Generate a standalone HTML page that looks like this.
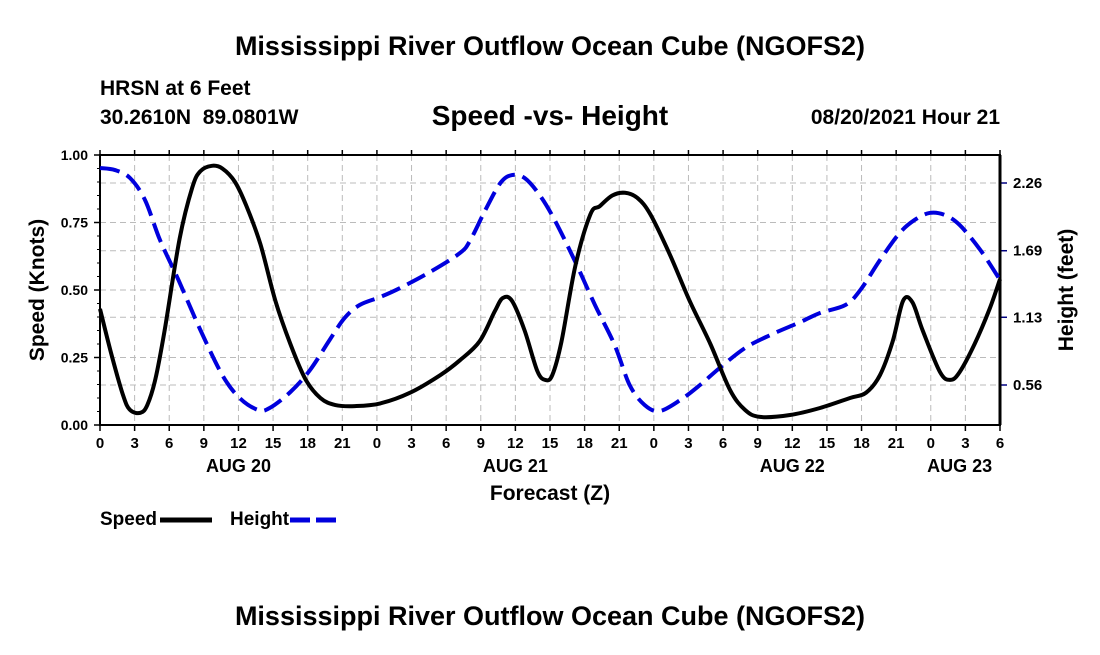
<!DOCTYPE html>
<html><head><meta charset="utf-8"><style>
body{margin:0;background:#fff;width:1100px;height:650px;overflow:hidden}
svg text{font-family:"Liberation Sans",Arial,sans-serif;font-weight:bold;fill:#000}
</style></head><body>
<svg id="chart" width="1100" height="650" viewBox="0 0 1100 650" xmlns="http://www.w3.org/2000/svg">
<text x="550" y="55" text-anchor="middle" font-size="27">Mississippi River Outflow Ocean Cube (NGOFS2)</text>
<text x="100" y="95" font-size="21">HRSN at 6 Feet</text>
<text x="100" y="124" font-size="21" xml:space="preserve">30.2610N  89.0801W</text>
<text x="550" y="125" text-anchor="middle" font-size="28">Speed -vs- Height</text>
<text x="1000" y="124" text-anchor="end" font-size="21">08/20/2021 Hour 21</text>
<g id="grid"></g>
<g id="axes"></g>
<g id="series"></g>
<text transform="translate(44,290) rotate(-90)" text-anchor="middle" font-size="21">Speed (Knots)</text>
<text transform="translate(1073,290) rotate(-90)" text-anchor="middle" font-size="21">Height (feet)</text>
<text x="550" y="500" text-anchor="middle" font-size="21">Forecast (Z)</text>
<g>
<text x="100" y="525" font-size="19">Speed</text>
<line x1="160" y1="520" x2="212" y2="520" stroke="#000" stroke-width="5"/>
<text x="230" y="525" font-size="19">Height</text>
<line x1="290" y1="520" x2="342" y2="520" stroke="#0000dd" stroke-width="5" stroke-dasharray="20,6"/>
</g>
<text x="550" y="625" text-anchor="middle" font-size="27">Mississippi River Outflow Ocean Cube (NGOFS2)</text>
</svg>
<script>
const speedHours=[0,1,2,2.6,3.5,4.1,4.8,5.6,6.9,8,8.7,9.7,10.6,11.7,12.7,13.9,15.2,16.5,17.8,19.1,20.4,22.1,24.3,26.9,29.5,31.2,32.9,34.2,34.9,35.7,36.8,37.9,38.6,39.2,40,41.2,42.5,43.3,44.4,45.5,46.6,47.7,49.4,51.1,52.9,54.6,55.9,57.2,59.8,62.4,65,66.4,67.6,68.7,69.6,70.4,71.3,72.8,73.7,74.5,75.8,77.1,78];
const speedValues=[.43,.26,.11,.056,.045,.074,.17,.35,.69,.88,.94,.96,.95,.90,.81,.67,.46,.30,.17,.10,.074,.07,.08,.12,.185,.24,.31,.42,.47,.46,.35,.20,.167,.185,.31,.59,.78,.81,.85,.86,.84,.78,.63,.46,.30,.13,.056,.03,.037,.063,.10,.12,.185,.31,.46,.455,.35,.196,.167,.196,.30,.43,.54];
const heightHours=[0,1.3,2.6,3.9,5.2,6.8,8.7,10.6,12.1,13.7,14.7,16.5,18.2,19.9,21.2,22.5,24.3,26,28.6,31.2,32.1,33.4,34.7,35.7,36.8,38.1,39.4,41.2,42.9,44.6,45.9,47.2,48.5,50.3,52,53.7,55.9,58.1,60.7,62.4,64.6,65.9,67.6,69.3,70.6,71.9,73.2,74.5,76.3,78];
const heightValues=[2.386,2.369,2.302,2.117,1.78,1.444,1.023,0.644,0.451,0.35,0.366,0.501,0.686,0.939,1.124,1.233,1.301,1.376,1.511,1.671,1.78,2.033,2.26,2.327,2.302,2.159,1.949,1.595,1.233,0.897,0.56,0.392,0.341,0.434,0.56,0.703,0.871,0.981,1.09,1.166,1.233,1.36,1.612,1.839,1.949,2.008,1.991,1.907,1.696,1.444];
const xTickLabels=["0","3","6","9","12","15","18","21","0","3","6","9","12","15","18","21","0","3","6","9","12","15","18","21","0","3","6"];
const dayLabels=["AUG 20","AUG 21","AUG 22","AUG 23"];
const speedTicks=[0,0.25,0.5,0.75,1];
const heightTicks=[0.56,1.13,1.69,2.26];

const L=100,R=1000,T=155,B=425,HMAX=78;
const X=h=>L+h*(R-L)/HMAX;
const YS=s=>B-s*(B-T);
const YH=v=>385-(v-0.56)/0.008416;
const NS="http://www.w3.org/2000/svg";
function mk(tag,attrs,parent){const e=document.createElementNS(NS,tag);for(const k in attrs)e.setAttribute(k,attrs[k]);parent.appendChild(e);return e;}
function smooth(pts){let d="M"+pts[0][0]+","+pts[0][1];
 for(let i=0;i<pts.length-1;i++){const p0=pts[Math.max(i-1,0)],p1=pts[i],p2=pts[i+1],p3=pts[Math.min(i+2,pts.length-1)];
  const c1=[p1[0]+(p2[0]-p0[0])/6,p1[1]+(p2[1]-p0[1])/6],c2=[p2[0]-(p3[0]-p1[0])/6,p2[1]-(p3[1]-p1[1])/6];
  d+=" C"+c1[0]+","+c1[1]+" "+c2[0]+","+c2[1]+" "+p2[0]+","+p2[1];}
 return d;}
const grid=document.getElementById('grid'),axes=document.getElementById('axes'),series=document.getElementById('series');
const gs={stroke:"#bbb","stroke-width":1,"stroke-dasharray":"6,4"};
xTickLabels.forEach((t,i)=>{const x=X(i*3);
 if(i>0&&i<xTickLabels.length-1){const g=mk('line',Object.assign({x1:x,y1:T,x2:x,y2:B},gs),grid);
 
 }
 const tk=mk('line',{x1:x,y1:B,x2:x,y2:B+6,stroke:"#000","stroke-width":1.5},axes);
 
 
 const tt=mk('line',{x1:x,y1:T,x2:x,y2:T-5,stroke:"#000","stroke-width":1.5},axes);
 
 
 const lb=mk('text',{x:x,y:B+23,"text-anchor":"middle","font-size":15},axes);lb.textContent=t;
 
 
});
dayLabels.forEach((d,i)=>{const lb=mk('text',{x:X(Math.min(i*24+12,78-3.5)),y:B+47,"text-anchor":"middle","font-size":18},axes);lb.textContent=d;
 
 });
speedTicks.forEach(s=>{const y=YS(s);
 if(s>0&&s<1){const g=mk('line',Object.assign({x1:L,y1:y,x2:R,y2:y},gs),grid);
 
 }
 const tk=mk('line',{x1:L-6,y1:y,x2:L,y2:y,stroke:"#000","stroke-width":1.5},axes);
 
 
 const lb=mk('text',{x:L-12,y:y+5,"text-anchor":"end","font-size":14},axes);lb.textContent=s.toFixed(2);
 
 
});
for(let s=0.05;s<1;s+=0.05){const m=mk('line',{x1:L-3,y1:YS(s),x2:L,y2:YS(s),stroke:"#000","stroke-width":1},axes);
 
 }
heightTicks.forEach(v=>{const y=YH(v);
 const g=mk('line',Object.assign({x1:L,y1:y,x2:R,y2:y},gs),grid);
 
 
 const tk=mk('line',{x1:R,y1:y,x2:R+7,y2:y,stroke:"#000080","stroke-width":1.5},axes);
 
 
 const lb=mk('text',{x:R+13,y:y+5,"font-size":15},axes);lb.textContent=v.toFixed(2);
 
 
});
const fr=mk('rect',{x:L,y:T,width:R-L,height:B-T,fill:"none",stroke:"#000","stroke-width":2},axes);


const ra=mk('line',{x1:R,y1:T,x2:R,y2:B,stroke:"#000","stroke-width":3},axes);


const hp=mk('path',{d:smooth(heightHours.map((h,i)=>[X(h),YH(heightValues[i])])),fill:"none",stroke:"#0000dd","stroke-width":4,"stroke-dasharray":"20,8","stroke-linejoin":"round"},series);


const sp=mk('path',{d:smooth(speedHours.map((h,i)=>[X(h),YS(speedValues[i])])),fill:"none",stroke:"#000","stroke-width":4,"stroke-linejoin":"round"},series);


</script>
</body></html>
